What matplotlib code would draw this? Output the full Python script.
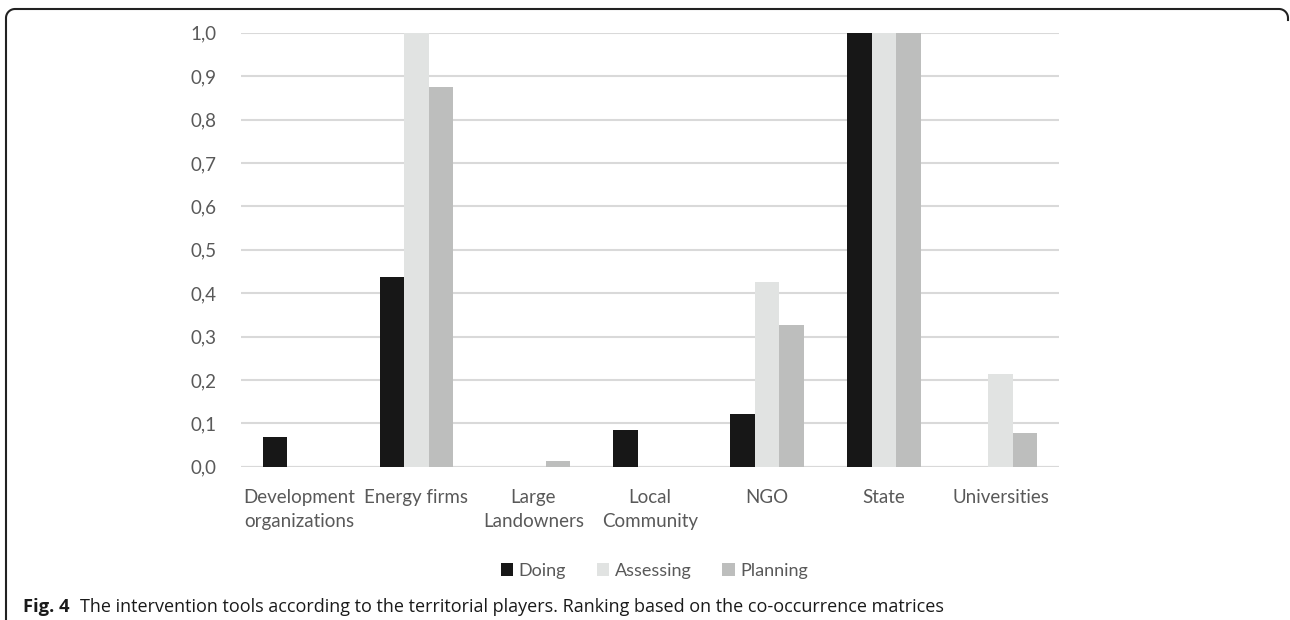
import numpy as np
import matplotlib.pyplot as plt
from matplotlib.lines import Line2D
from matplotlib.transforms import IdentityTransform

# data
categories = ['Development\norganizations', 'Energy firms', 'Large\nLandowners',
              'Local\nCommunity', 'NGO', 'State', 'Universities']
doing = [0.068, 0.438, 0.0, 0.085, 0.121, 1.0, 0.0]
assessing = [0.0, 1.0, 0.0, 0.0, 0.426, 1.0, 0.214]
planning = [0.0, 0.876, 0.013, 0.0, 0.328, 1.0, 0.078]
series_names = ['Doing', 'Assessing', 'Planning']
colors = ['#171717', '#e1e3e2', '#bdbebd']

plt.rcParams['font.family'] = ['Lato', 'DejaVu Sans']

fig = plt.figure(figsize=(12.9, 6.2), dpi=100)
ax = fig.add_axes([0.187, 0.247, 0.634, 0.7])

x = np.arange(len(categories))
w = 0.21
for i, (vals, name, c) in enumerate(zip([doing, assessing, planning], series_names, colors)):
    ax.bar(x + (i - 1) * w, vals, width=w, color=c, label=name, zorder=3)

ax.set_xlim(-0.5, len(categories) - 0.5)
ax.set_ylim(0, 1.0)
yt = np.arange(0, 1.01, 0.1)
ax.set_yticks(yt)
ax.set_yticklabels([f'{v:.1f}'.replace('.', ',') for v in yt])
ax.set_xticks(x)
ax.set_xticklabels(categories, linespacing=1.5)
ax.yaxis.grid(True, color='#d9d9d9', linewidth=1.5, zorder=0)
ax.set_axisbelow(True)
for s in ax.spines.values():
    s.set_visible(False)
ax.tick_params(axis='both', length=0, labelsize=13.5, colors='#595959')
ax.tick_params(axis='y', pad=18)
ax.tick_params(axis='x', pad=16)
ax.axhline(0, color='#d9d9d9', linewidth=1.5, zorder=2)

leg = ax.legend(loc='center', bbox_to_anchor=(0.505, -0.24), ncol=3, frameon=False,
                fontsize=13, handlelength=0.7, handleheight=0.7, handletextpad=0.3,
                columnspacing=1.7)
for t in leg.get_texts():
    t.set_color('#595959')

# caption
fig.text(0.018, 0.013, 'Fig. 4', fontsize=13.2, fontweight='bold', color='#1a1a1a',
         family='Open Sans')
fig.text(0.062, 0.013, 'The intervention tools according to the territorial players. '
         'Ranking based on the co-occurrence matrices', fontsize=13.0, color='#1a1a1a',
         family='Open Sans')

# frame in pixels: left line, rounded top corners, top line
H = 620
top, left, right, r = H - 9, 6, 1288, 9
th = np.linspace(0, np.pi / 2, 20)
xs = np.concatenate([[left], left + r - r * np.cos(th), [right - r],
                     right - r + r * np.sin(th), [right]])
ys = np.concatenate([[0], top - r + r * np.sin(th), [top],
                     top - r + r * np.cos(th), [top - r - 2]])
fig.add_artist(Line2D(xs, ys, transform=IdentityTransform(), color='#222222',
                      linewidth=1.5))

fig.savefig('out.png', dpi=100)
